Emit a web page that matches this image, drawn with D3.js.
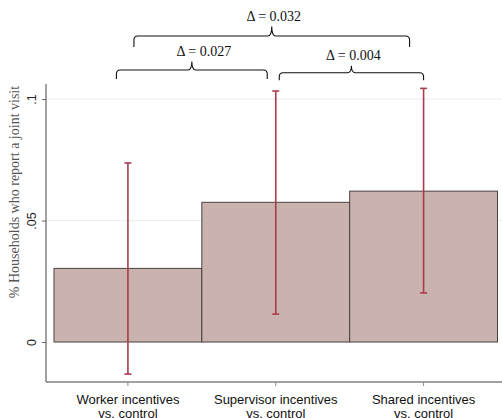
<!DOCTYPE html>
<html>
<head>
<meta charset="utf-8">
<script src="https://cdn.jsdelivr.net/npm/d3@7"></script>
<style>
  html, body { margin: 0; padding: 0; background: #fff; }
  svg { display: block; }
</style>
</head>
<body>
<svg id="chart" width="502" height="418"></svg>
<script>
// Treatment arms compared with control
const categories = ["Worker incentives|vs. control", "Supervisor incentives|vs. control", "Shared incentives|vs. control"];
const estimates = [0.0303, 0.0575, 0.0621];
const ciLow = [-0.0132, 0.0115, 0.0202];
const ciHigh = [0.0737, 0.1033, 0.1044];
const yTicks = [0, 0.05, 0.1];
const yTickLabels = ["0", ".05", ".1"];

// Pairwise differences shown as braces above the bars: [from index, to index, label, level]
const diffFrom = [0, 1, 0];
const diffTo = [1, 2, 2];
const diffLabels = ["\u0394 = 0.027", "\u0394 = 0.004", "\u0394 = 0.032"];

const svg = d3.select("#chart");
const plotLeft = 46, plotRight = 502, plotTop = 84, plotBottom = 382;

const y = d3.scaleLinear().domain([-0.01646, 0.1062]).range([plotBottom, plotTop]);
const x = d3.scaleBand().domain(d3.range(categories.length)).range([54, 497.5]).padding(0);

// gridlines
svg.append("g").selectAll("line").data(yTicks.filter(d => d !== 0)).join("line")
  .attr("x1", plotLeft).attr("x2", plotRight)
  .attr("y1", d => y(d)).attr("y2", d => y(d))
  .attr("stroke", "#e6eef0").attr("stroke-width", 1);

// bars
svg.append("g").selectAll("rect").data(estimates).join("rect")
  .attr("x", (d, i) => x(i))
  .attr("y", d => y(d))
  .attr("width", x.bandwidth())
  .attr("height", d => y(0) - y(d))
  .attr("fill", "#cab3af")
  .attr("stroke", "#4a4040")
  .attr("stroke-width", 1);

// confidence intervals
const ci = svg.append("g").attr("stroke", "#a83c4a").attr("stroke-width", 1.6);
estimates.forEach((d, i) => {
  const cx = x(i) + x.bandwidth() / 2;
  ci.append("line").attr("x1", cx).attr("x2", cx).attr("y1", y(ciLow[i])).attr("y2", y(ciHigh[i]));
  ci.append("line").attr("x1", cx - 3.5).attr("x2", cx + 3.5).attr("y1", y(ciLow[i])).attr("y2", y(ciLow[i]));
  ci.append("line").attr("x1", cx - 3.5).attr("x2", cx + 3.5).attr("y1", y(ciHigh[i])).attr("y2", y(ciHigh[i]));
});

// y axis
const yAxis = d3.axisLeft(y).tickValues(yTicks).tickFormat((d, i) => yTickLabels[i]).tickSize(4).tickSizeOuter(0);
const gy = svg.append("g").attr("transform", `translate(${plotLeft},0)`).call(yAxis);
gy.select(".domain").attr("stroke", "#444").attr("d", `M0,${plotTop}V${plotBottom}`);
gy.selectAll(".tick line").attr("stroke", "#666");
gy.selectAll(".tick text")
  .attr("font-family", "'Liberation Sans', Arial, sans-serif")
  .attr("font-size", 12.5)
  .attr("fill", "#222")
  .attr("x", 0).attr("dy", 0)
  .attr("text-anchor", "middle")
  .attr("transform", "translate(-10,0) rotate(-90)");

// x axis
const xc = d3.scaleOrdinal().domain(d3.range(3)).range(d3.range(3).map(i => x(i) + x.bandwidth() / 2));
const gx = svg.append("g").attr("transform", `translate(0,${plotBottom})`);
gx.append("line").attr("x1", plotLeft).attr("x2", plotRight).attr("stroke", "#444");
categories.forEach((c, i) => {
  const cx = x(i) + x.bandwidth() / 2;
  gx.append("line").attr("x1", cx).attr("x2", cx).attr("y1", 0).attr("y2", 4).attr("stroke", "#888");
  const t = gx.append("text")
    .attr("font-family", "'Liberation Sans', Arial, sans-serif")
    .attr("font-size", 13).attr("fill", "#111").attr("text-anchor", "middle");
  c.split("|").forEach((line, j) => {
    t.append("tspan").attr("x", cx).attr("y", 22 + j * 13.5).text(line);
  });
});

// y axis title
svg.append("text")
  .attr("transform", "translate(19,192) rotate(-90)")
  .attr("text-anchor", "middle")
  .attr("font-family", "'Liberation Serif', 'Times New Roman', serif")
  .attr("font-size", 14)
  .attr("fill", "#555")
  .text("% Households who report a joint visit");

// braces
const braceTop = [70, 72.7, 36];
const braceDrop = [9, 7.5, 11];
const bracePeak = [8.5, 7, 9.5];
const braceG = svg.append("g");
diffLabels.forEach((lab, k) => {
  const x1 = x(diffFrom[k]) + x.bandwidth() / 2 - (k === 2 ? -6 : 11.5) + (k === 1 ? 15 : 0);
  const x2 = x(diffTo[k]) + x.bandwidth() / 2 - (k === 2 ? 14 : 8.5) + (k === 1 ? 8.5 : 0);
  const yT = braceTop[k], yB = yT + braceDrop[k], mx = (x1 + x2) / 2, yP = yT - bracePeak[k];
  const r = 4;
  const path = `M${x1},${yB} L${x1},${yT + r} Q${x1},${yT} ${x1 + r},${yT} L${mx - r},${yT} Q${mx},${yT} ${mx},${yP}` +
               ` Q${mx},${yT} ${mx + r},${yT} L${x2 - r},${yT} Q${x2},${yT} ${x2},${yT + r} L${x2},${yB}`;
  braceG.append("path").attr("d", path).attr("fill", "none").attr("stroke", "#111").attr("stroke-width", 1.1);
  braceG.append("text")
    .attr("x", mx + (k === 0 ? 12 : 2)).attr("y", yP - 6)
    .attr("text-anchor", "middle")
    .attr("font-family", "'Liberation Serif', 'Times New Roman', serif")
    .attr("font-size", 14).attr("fill", "#111")
    .text(lab);
});
</script>
</body>
</html>
